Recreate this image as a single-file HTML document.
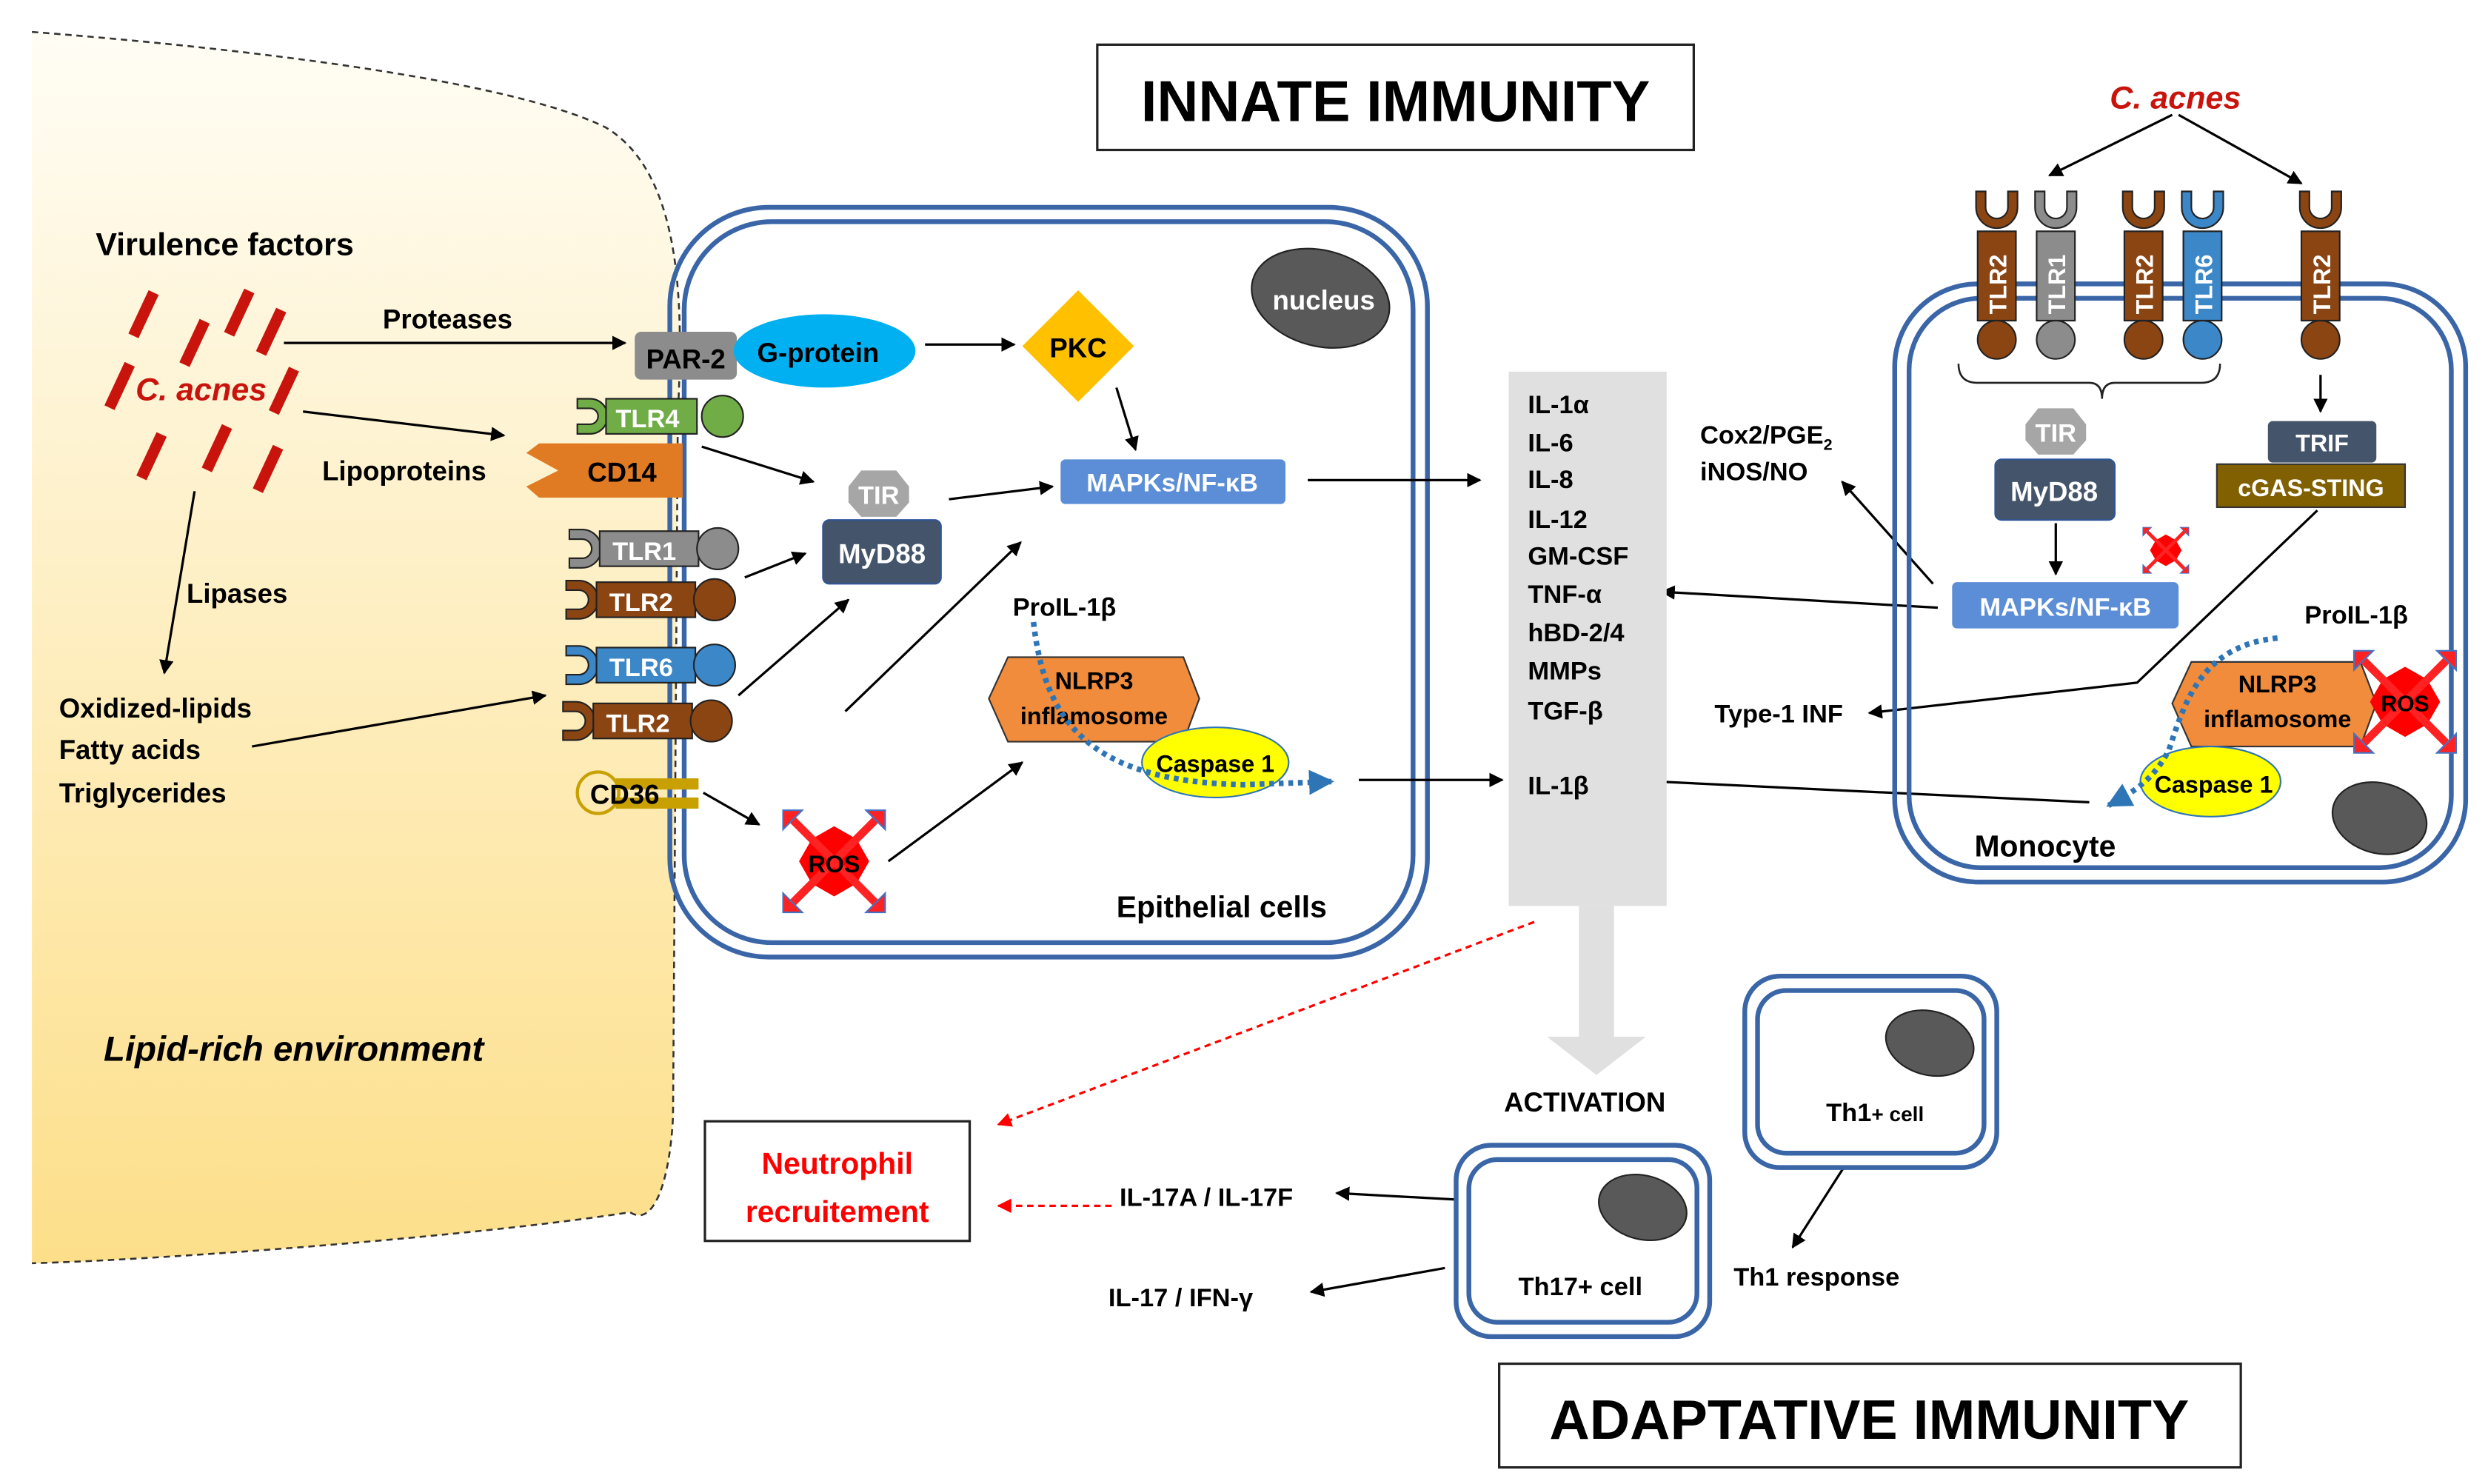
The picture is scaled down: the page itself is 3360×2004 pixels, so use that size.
<!DOCTYPE html>
<html><head><meta charset="utf-8"><style>
html,body{margin:0;padding:0;background:#fff}
svg{display:block}
text{font-family:"Liberation Sans",sans-serif;font-weight:bold}
</style></head><body>
<svg width="3360" height="2004" viewBox="0 0 1560 930.4" xmlns="http://www.w3.org/2000/svg">
<defs>
<linearGradient id="lg" x1="0" y1="0" x2="0" y2="1">
<stop offset="0" stop-color="#fffdf5"/><stop offset="1" stop-color="#fddf8a"/></linearGradient>
<marker id="ar" viewBox="0 0 10 10" refX="9" refY="5" markerWidth="6" markerHeight="6" orient="auto"><path d="M0,0L10,5L0,10z" fill="#000"/></marker>
<marker id="arr" viewBox="0 0 10 10" refX="9" refY="5" markerWidth="6" markerHeight="6" orient="auto"><path d="M0,0L10,5L0,10z" fill="#f00"/></marker>
<marker id="arb" viewBox="0 0 10 10" refX="9" refY="5" markerWidth="4.5" markerHeight="4.5" orient="auto"><path d="M0,0L10,5L0,10z" fill="#2e75b6"/></marker>
<g id="ros"><path d="M-14,-14L0,-22L14,-14L22,0L14,14L0,22L-14,14L-22,0z" fill="#f00"/>
<path d="M-28,-28L28,28M28,-28L-28,28" stroke="#f22" stroke-width="5"/>
<path d="M-32,-32l12,0l-12,12zM32,-32l-12,0l12,12zM-32,32l12,0l-12,-12zM32,32l-12,0l12,-12z" fill="#f22" stroke="#4472c4" stroke-width="1"/></g>
</defs>

<path d="M20,20 C150,30 320,50 380,80 C430,110 428,200 425,260 L422,700 C420,740 410,770 395,760 C300,775 100,790 20,792 Z" fill="url(#lg)"/>
<path d="M20,20 C150,30 320,50 380,80 C430,110 428,200 425,260 L422,700 C420,740 410,770 395,760 C300,775 100,790 20,792" fill="none" stroke="#333" stroke-width="1.2" stroke-dasharray="4,3"/>
<text x="65" y="665" font-size="22" font-style="italic">Lipid-rich environment</text>

<rect x="688" y="28" width="374" height="66" fill="#fff" stroke="#222" stroke-width="1.5"/>
<text x="875" y="76" font-size="36" text-anchor="middle">INNATE IMMUNITY</text>

<rect x="420" y="130" width="475" height="470" rx="62" fill="none" stroke="#3a66a8" stroke-width="3"/>
<rect x="429" y="139" width="457" height="452" rx="55" fill="none" stroke="#3a66a8" stroke-width="3"/>
<ellipse cx="828" cy="187" rx="44" ry="30" fill="#595959" stroke="#222" transform="rotate(15 828 187)"/>
<text x="830" y="194" font-size="17" fill="#fff" text-anchor="middle">nucleus</text>

<text x="60" y="160" font-size="20">Virulence  factors</text>
<g fill="#c8140c">
<rect x="-3.5" y="-15" width="7" height="30" transform="translate(90,197) rotate(25)"/>
<rect x="-3.5" y="-15" width="7" height="30" transform="translate(150,196) rotate(25)"/>
<rect x="-3.5" y="-15" width="7" height="30" transform="translate(170,208) rotate(25)"/>
<rect x="-3.5" y="-15" width="7" height="30" transform="translate(122,215) rotate(25)"/>
<rect x="-3.5" y="-15" width="7" height="30" transform="translate(75,242) rotate(25)"/>
<rect x="-3.5" y="-15" width="7" height="30" transform="translate(178,245) rotate(25)"/>
<rect x="-3.5" y="-15" width="7" height="30" transform="translate(95,286) rotate(25)"/>
<rect x="-3.5" y="-15" width="7" height="30" transform="translate(136,281) rotate(25)"/>
<rect x="-3.5" y="-15" width="7" height="30" transform="translate(168,294) rotate(25)"/>
</g>
<text x="85" y="251" font-size="20" fill="#c8140c" font-style="italic">C. acnes</text>

<g stroke="#000" stroke-width="1.5" fill="none" marker-end="url(#ar)">
<line x1="178" y1="215" x2="392" y2="215"/>
<line x1="190" y1="258" x2="316" y2="273"/>
<line x1="580" y1="216" x2="636" y2="216"/>
<line x1="700" y1="243" x2="712" y2="282"/>
<line x1="440" y1="280" x2="510" y2="302"/>
<line x1="595" y1="313" x2="660" y2="305"/>
<line x1="820" y1="301" x2="928" y2="301"/>
<line x1="467" y1="362" x2="505" y2="347"/>
<line x1="463" y1="436" x2="532" y2="376"/>
<line x1="530" y1="446" x2="640" y2="340"/>
<line x1="122" y1="308" x2="103" y2="422"/>
<line x1="158" y1="468" x2="342" y2="436"/>
<line x1="441" y1="497" x2="476" y2="517"/>
<line x1="557" y1="540" x2="641" y2="478"/>
<line x1="852" y1="489" x2="942" y2="489"/>
<line x1="1212" y1="366" x2="1155" y2="302"/>
<line x1="1215" y1="381" x2="1042" y2="371"/>
<polyline points="1453,320 1340,428 1172,447"/>
<line x1="1310" y1="503" x2="1018" y2="489"/>
<line x1="1362" y1="72" x2="1285" y2="110"/>
<line x1="1366" y1="72" x2="1443" y2="115"/>
<line x1="1289" y1="328" x2="1289" y2="360"/>
<line x1="1455" y1="235" x2="1455" y2="258"/>
<line x1="1165" y1="718" x2="1124" y2="782"/>
<line x1="912" y1="752" x2="838" y2="748"/>
<line x1="906" y1="795" x2="822" y2="810"/>
</g>
<text x="240" y="206" font-size="17">Proteases</text>
<text x="202" y="301" font-size="17">Lipoproteins</text>
<text x="117" y="378" font-size="17">Lipases</text>
<text x="37" y="450" font-size="17">Oxidized-lipids</text>
<text x="37" y="476" font-size="17">Fatty acids</text>
<text x="37" y="503" font-size="17">Triglycerides</text>

<rect x="398" y="208" width="64" height="30" rx="4" fill="#8c8c8c"/>
<text x="430" y="231" font-size="17" text-anchor="middle">PAR-2</text>
<ellipse cx="517" cy="220" rx="57" ry="23" fill="#00b0f0"/>
<text x="513" y="227" font-size="17" text-anchor="middle">G-protein</text>
<path d="M676,182L711,217L676,252L641,217Z" fill="#ffc000"/>
<text x="676" y="224" font-size="17" text-anchor="middle">PKC</text>

<path d="M338,278 L428,278 L428,312 L338,312 L330,305 L350,295 L330,284 Z" fill="#e07b24"/>
<text x="390" y="302" font-size="17" text-anchor="middle">CD14</text>

<g stroke="#222" stroke-width="1">
<path d="M362,250 h8 a11,11 0 0 1 0,22 h-8 v-6 h8 a5,5 0 0 0 0,-10 h-8z" fill="#70ad47"/>
<rect x="380" y="250" width="57" height="22" fill="#70ad47"/><circle cx="453" cy="261" r="13" fill="#70ad47"/>
<path d="M357,332 h8 a12,12 0 0 1 0,24 h-8 v-6 h8 a6,6 0 0 0 0,-12 h-8z" fill="#8c8c8c"/>
<rect x="376" y="333" width="62" height="22" fill="#8c8c8c"/><circle cx="450" cy="344" r="13" fill="#8c8c8c"/>
<path d="M355,364 h8 a12,12 0 0 1 0,24 h-8 v-6 h8 a6,6 0 0 0 0,-12 h-8z" fill="#8b4513"/>
<rect x="374" y="365" width="62" height="22" fill="#8b4513"/><circle cx="448" cy="376" r="13" fill="#8b4513"/>
<path d="M355,405 h8 a12,12 0 0 1 0,24 h-8 v-6 h8 a6,6 0 0 0 0,-12 h-8z" fill="#3b87c8"/>
<rect x="374" y="406" width="62" height="22" fill="#3b87c8"/><circle cx="448" cy="417" r="13" fill="#3b87c8"/>
<path d="M353,440 h8 a12,12 0 0 1 0,24 h-8 v-6 h8 a6,6 0 0 0 0,-12 h-8z" fill="#8b4513"/>
<rect x="372" y="441" width="62" height="22" fill="#8b4513"/><circle cx="446" cy="452" r="13" fill="#8b4513"/>
</g>
<g font-size="16" fill="#fff">
<text x="386" y="268">TLR4</text><text x="384" y="351">TLR1</text><text x="382" y="383">TLR2</text>
<text x="382" y="424">TLR6</text><text x="380" y="459">TLR2</text></g>
<circle cx="375" cy="497" r="13" fill="none" stroke="#c8a000" stroke-width="2"/>
<rect x="386" y="488" width="52" height="7" fill="#c8a000"/><rect x="386" y="500" width="52" height="7" fill="#c8a000"/>
<text x="370" y="504" font-size="17">CD36</text>

<path d="M540,295 L562,295 L570,305 L570,315 L562,324 L540,324 L532,315 L532,305Z" fill="#a6a6a6"/>
<text x="551" y="316" font-size="16" fill="#fff" text-anchor="middle">TIR</text>
<rect x="516" y="326" width="74" height="40" rx="4" fill="#44546a" stroke="#2f5597"/>
<text x="553" y="353" font-size="17" fill="#fff" text-anchor="middle">MyD88</text>
<rect x="665" y="288" width="141" height="28" rx="3" fill="#5b8ed6"/>
<text x="735" y="308" font-size="16" fill="#fff" text-anchor="middle">MAPKs/NF-κB</text>

<use href="#ros" x="523" y="540"/>
<text x="523" y="547" font-size="15" text-anchor="middle">ROS</text>

<text x="635" y="386" font-size="16">ProIL-1β</text>
<path d="M632,412 L742,412 L752,438 L742,465 L632,465 L620,438Z" fill="#f08c3c" stroke="#333"/>
<text x="686" y="432" font-size="15" text-anchor="middle">NLRP3</text>
<text x="686" y="454" font-size="15" text-anchor="middle">inflamosome</text>
<ellipse cx="762" cy="478" rx="46" ry="22" fill="#ffff00" stroke="#2e75b6"/>
<text x="762" y="484" font-size="15" text-anchor="middle">Caspase 1</text>
<path d="M648,390 C655,450 680,490 780,492 L835,490" fill="none" stroke="#2e75b6" stroke-width="3.5" stroke-dasharray="3,3" marker-end="url(#arb)"/>
<text x="700" y="575" font-size="19">Epithelial cells</text>

<rect x="946" y="233" width="99" height="335" fill="#e0e0e0"/>
<path d="M990,568 H1012 V650 H1032 L1001,674 L970,650 H990Z" fill="#e0e0e0"/>
<g font-size="16"><text x="958" y="259">IL-1α</text><text x="958" y="283">IL-6</text><text x="958" y="306">IL-8</text>
<text x="958" y="331">IL-12</text><text x="958" y="354">GM-CSF</text><text x="958" y="378">TNF-α</text>
<text x="958" y="402">hBD-2/4</text><text x="958" y="426">MMPs</text><text x="958" y="451">TGF-β</text>
<text x="958" y="498">IL-1β</text></g>
<text x="1066" y="278" font-size="16">Cox2/PGE<tspan font-size="10" dy="4">2</tspan></text>
<text x="1066" y="301" font-size="16">iNOS/NO</text>
<text x="1075" y="453" font-size="16">Type-1 INF</text>

<rect x="1188" y="178" width="358" height="375" rx="52" fill="none" stroke="#3a66a8" stroke-width="3"/>
<rect x="1197" y="187" width="340" height="357" rx="45" fill="none" stroke="#3a66a8" stroke-width="3"/>
<text x="1364" y="68" font-size="20" fill="#c8140c" font-style="italic" text-anchor="middle">C. acnes</text>
<g stroke="#222" stroke-width="1">
<g transform="translate(1252,0)"><path d="M-13,120 v10 a13,13 0 0 0 26,0 v-10 h-6 v10 a7,7 0 0 1 -14,0 v-10z" fill="#8b4513"/><rect x="-12" y="145" width="24" height="56" fill="#8b4513"/><circle cx="0" cy="213" r="12" fill="#8b4513"/></g>
<g transform="translate(1289,0)"><path d="M-13,120 v10 a13,13 0 0 0 26,0 v-10 h-6 v10 a7,7 0 0 1 -14,0 v-10z" fill="#8c8c8c"/><rect x="-12" y="145" width="24" height="56" fill="#8c8c8c"/><circle cx="0" cy="213" r="12" fill="#8c8c8c"/></g>
<g transform="translate(1344,0)"><path d="M-13,120 v10 a13,13 0 0 0 26,0 v-10 h-6 v10 a7,7 0 0 1 -14,0 v-10z" fill="#8b4513"/><rect x="-12" y="145" width="24" height="56" fill="#8b4513"/><circle cx="0" cy="213" r="12" fill="#8b4513"/></g>
<g transform="translate(1381,0)"><path d="M-13,120 v10 a13,13 0 0 0 26,0 v-10 h-6 v10 a7,7 0 0 1 -14,0 v-10z" fill="#3b87c8"/><rect x="-12" y="145" width="24" height="56" fill="#3b87c8"/><circle cx="0" cy="213" r="12" fill="#3b87c8"/></g>
<g transform="translate(1455,0)"><path d="M-13,120 v10 a13,13 0 0 0 26,0 v-10 h-6 v10 a7,7 0 0 1 -14,0 v-10z" fill="#8b4513"/><rect x="-12" y="145" width="24" height="56" fill="#8b4513"/><circle cx="0" cy="213" r="12" fill="#8b4513"/></g>
</g>
<g font-size="15" fill="#fff">
<text transform="translate(1258,197) rotate(-90)">TLR2</text><text transform="translate(1295,197) rotate(-90)">TLR1</text>
<text transform="translate(1350,197) rotate(-90)">TLR2</text><text transform="translate(1387,197) rotate(-90)">TLR6</text>
<text transform="translate(1461,197) rotate(-90)">TLR2</text></g>
<path d="M1228,228 Q1228,240 1240,240 L1310,240 Q1318,240 1318,250 Q1318,240 1326,240 L1380,240 Q1392,240 1392,228" fill="none" stroke="#222" stroke-width="1.2"/>
<path d="M1278,256 L1300,256 L1308,266 L1308,276 L1300,285 L1278,285 L1270,276 L1270,266Z" fill="#a6a6a6"/>
<text x="1289" y="277" font-size="16" fill="#fff" text-anchor="middle">TIR</text>
<rect x="1251" y="288" width="75" height="38" rx="4" fill="#44546a" stroke="#2f5597"/>
<text x="1288" y="314" font-size="17" fill="#fff" text-anchor="middle">MyD88</text>
<rect x="1224" y="365" width="142" height="29" rx="3" fill="#5b8ed6"/>
<text x="1295" y="386" font-size="16" fill="#fff" text-anchor="middle">MAPKs/NF-κB</text>
<g transform="translate(1358,345) scale(0.45)"><use href="#ros"/></g>
<rect x="1422" y="264" width="68" height="26" rx="3" fill="#44546a"/>
<text x="1456" y="283" font-size="15" fill="#fff" text-anchor="middle">TRIF</text>
<rect x="1390" y="291" width="118" height="27" fill="#806000" stroke="#333"/>
<text x="1449" y="311" font-size="15" fill="#fff" text-anchor="middle">cGAS-STING</text>
<text x="1445" y="391" font-size="16">ProIL-1β</text>
<path d="M1374,415 L1480,415 L1490,441 L1480,468 L1374,468 L1362,441Z" fill="#f08c3c" stroke="#333"/>
<text x="1428" y="434" font-size="15" text-anchor="middle">NLRP3</text>
<text x="1428" y="456" font-size="15" text-anchor="middle">inflamosome</text>
<use href="#ros" x="1508" y="440"/>
<text x="1508" y="446" font-size="14" text-anchor="middle">ROS</text>
<ellipse cx="1386" cy="490" rx="44" ry="22" fill="#ffff00" stroke="#2e75b6"/>
<text x="1388" y="497" font-size="15" text-anchor="middle">Caspase 1</text>
<path d="M1428,400 C1380,405 1370,440 1360,470 C1350,490 1335,498 1322,505" fill="none" stroke="#2e75b6" stroke-width="3.5" stroke-dasharray="3,3" marker-end="url(#arb)"/>
<ellipse cx="1492" cy="513" rx="30" ry="22" fill="#595959" stroke="#222" transform="rotate(15 1492 513)"/>
<text x="1238" y="537" font-size="19">Monocyte</text>

<line x1="962" y1="578" x2="626" y2="705" stroke="#f00" stroke-width="1.5" stroke-dasharray="4,3" marker-end="url(#arr)"/>
<line x1="697" y1="756" x2="626" y2="756" stroke="#f00" stroke-width="1.5" stroke-dasharray="4,3" marker-end="url(#arr)"/>
<rect x="442" y="703" width="166" height="75" fill="#fff" stroke="#222" stroke-width="1.5"/>
<text x="525" y="736" font-size="19" fill="#f00" text-anchor="middle">Neutrophil</text>
<text x="525" y="766" font-size="19" fill="#f00" text-anchor="middle">recruitement</text>
<text x="943" y="697" font-size="17">ACTIVATION</text>
<text x="702" y="756" font-size="16">IL-17A / IL-17F</text>
<text x="695" y="819" font-size="16">IL-17 / IFN-γ</text>
<rect x="913" y="718" width="159" height="120" rx="22" fill="#fff" stroke="#3a66a8" stroke-width="3"/>
<rect x="921" y="727" width="143" height="102" rx="18" fill="none" stroke="#3a66a8" stroke-width="3"/>
<ellipse cx="1030" cy="757" rx="28" ry="20" fill="#595959" stroke="#222" transform="rotate(15 1030 757)"/>
<text x="952" y="812" font-size="16">Th17+ cell</text>
<rect x="1094" y="612" width="158" height="120" rx="22" fill="#fff" stroke="#3a66a8" stroke-width="3"/>
<rect x="1102" y="621" width="142" height="102" rx="18" fill="none" stroke="#3a66a8" stroke-width="3"/>
<ellipse cx="1210" cy="654" rx="28" ry="20" fill="#595959" stroke="#222" transform="rotate(15 1210 654)"/>
<text x="1145" y="703" font-size="16">Th1<tspan font-size="13">+ cell</tspan></text>
<text x="1087" y="806" font-size="16">Th1 response</text>
<rect x="940" y="855" width="465" height="65" fill="#fff" stroke="#222" stroke-width="1.5"/>
<text x="1172" y="902" font-size="35" text-anchor="middle">ADAPTATIVE IMMUNITY</text>
</svg>
</body></html>
